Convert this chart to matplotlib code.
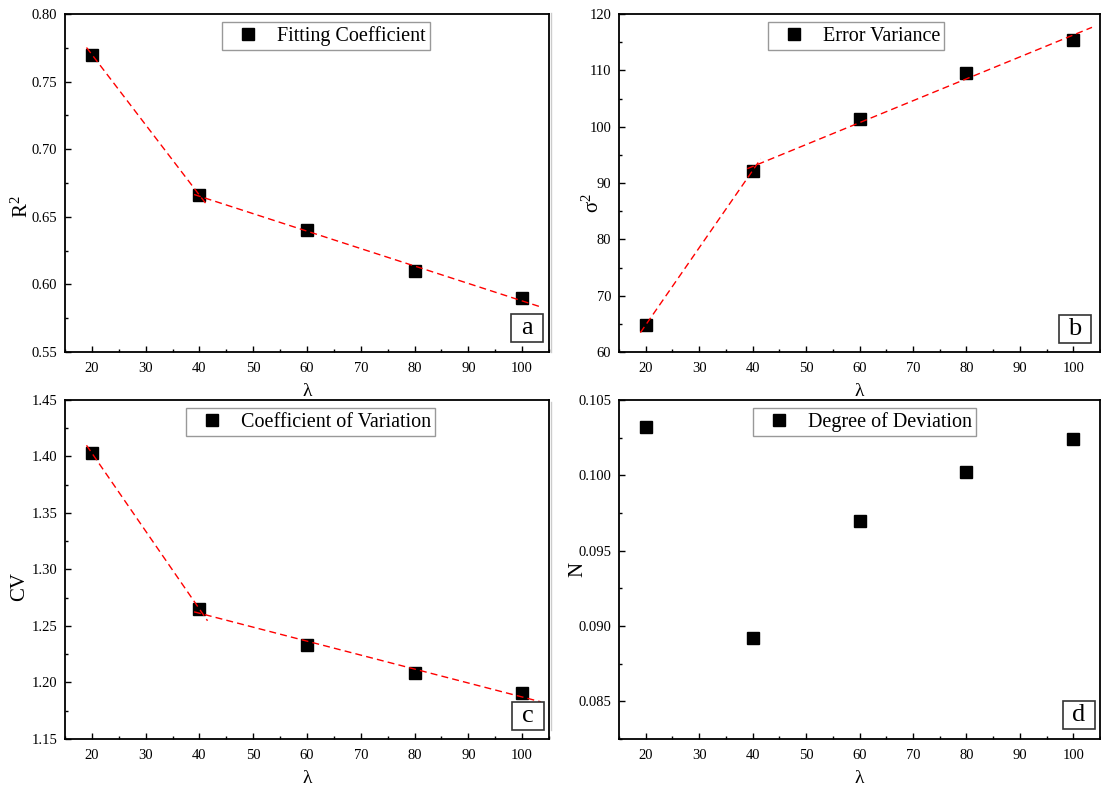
import numpy as np
import matplotlib
matplotlib.use("Agg")
import matplotlib.pyplot as plt
from matplotlib.ticker import MultipleLocator, FormatStrFormatter
from matplotlib.lines import Line2D
from matplotlib.patches import Rectangle

# 字体：Times 风格
plt.rcParams["font.family"] = ["Liberation Serif", "DejaVu Serif"]
plt.rcParams["mathtext.fontset"] = "custom"
plt.rcParams["mathtext.rm"] = "Liberation Serif"
plt.rcParams["mathtext.it"] = "Liberation Serif:italic"
plt.rcParams["axes.unicode_minus"] = False

# -------------------------- 数据 --------------------------
lam = [20, 40, 60, 80, 100]
r2 = [0.770, 0.666, 0.640, 0.610, 0.590]
sigma2 = [64.8, 92.2, 101.3, 109.5, 115.4]
cv = [1.403, 1.265, 1.233, 1.208, 1.191]
dev = [0.1032, 0.0892, 0.0970, 0.1002, 0.1024]

labels = ["Fitting Coefficient", "Error Variance", "Coefficient of Variation", "Degree of Deviation"]
ylabels = ["R$^2$", "σ$^2$", "CV", "N"]
tags = ["a", "b", "c", "d"]
ylims = [(0.55, 0.80), (60, 120), (1.15, 1.45), (0.0825, 0.105)]
ysteps = [0.05, 10, 0.05, 0.005]
yfmts = ["%.2f", "%d", "%.2f", "%.3f"]
series = [r2, sigma2, cv, dev]

# 轴的位置 (figure 比例)
pos = [
    [65 / 1101, 1 - 352 / 785, 484 / 1101, 338 / 785],
    [619 / 1101, 1 - 352 / 785, 481 / 1101, 338 / 785],
    [65 / 1101, 1 - 739 / 785, 484 / 1101, 339 / 785],
    [619 / 1101, 1 - 739 / 785, 481 / 1101, 339 / 785],
]
leg_x = [0.539, 0.493, 0.507, 0.51]
ylab_xy = [(-0.089, 0.429), (-0.054, 0.44), (-0.094, 0.451), (-0.086, 0.5)]
tag_xy = [(0.921, 0.030), (0.915, 0.027), (0.924, 0.027), (0.923, 0.030)]

fig = plt.figure(figsize=(11.01, 7.85), dpi=100)

for i in range(4):
    ax = fig.add_axes(pos[i])
    y = series[i]
    ax.plot(lam, y, "s", color="black", markersize=8.5, label=labels[i], zorder=3)

    # 两段线性拟合（前两点 / 后四点），红色虚线
    if i != 3:
        k1, b1 = np.polyfit(lam[:2], y[:2], 1)
        xs1 = np.array([19, 41.5])
        ax.plot(xs1, k1 * xs1 + b1, "--", color="red", lw=1.0, dashes=(5, 3), zorder=4)
        k2, b2 = np.polyfit(lam[1:], y[1:], 1)
        xs2 = np.array([39, 103.5])
        ax.plot(xs2, k2 * xs2 + b2, "--", color="red", lw=1.0, dashes=(5, 3), zorder=4)

    ax.set_xlim(15, 105)
    ax.set_ylim(*ylims[i])
    ax.xaxis.set_major_locator(MultipleLocator(10))
    ax.xaxis.set_minor_locator(MultipleLocator(5))
    ax.yaxis.set_major_locator(MultipleLocator(ysteps[i]))
    ax.yaxis.set_minor_locator(MultipleLocator(ysteps[i] / 2))
    ax.yaxis.set_major_formatter(FormatStrFormatter(yfmts[i]))
    ax.tick_params(which="major", direction="in", length=4.5, width=1, labelsize=10.5)
    ax.tick_params(which="minor", direction="in", length=2.5, width=1)
    ax.tick_params(axis="x", which="major", pad=7)
    ax.tick_params(axis="y", which="major", pad=5.5)
    for s in ax.spines.values():
        s.set_linewidth(1.3)

    ax.set_xlabel("λ", fontsize=14, va="top")
    ax.xaxis.set_label_coords(0.5, -0.092)
    ax.set_ylabel(ylabels[i], fontsize=15, va="center")
    ax.yaxis.set_label_coords(*ylab_xy[i])

    leg = ax.legend(loc="upper center", bbox_to_anchor=(leg_x[i], 0.975), fontsize=14.5,
                    frameon=True, fancybox=False, edgecolor="#999999", framealpha=1,
                    handletextpad=0.32, handlelength=2.2, borderpad=0.2, borderaxespad=0)
    leg.get_frame().set_linewidth(1.0)

    # 右下角的编号框
    bx, by = tag_xy[i]
    ax.add_patch(Rectangle((bx, by), 0.066, 0.082, transform=ax.transAxes,
                           fc="white", ec="#333333", lw=1.2, zorder=5))
    ax.text(bx + 0.033, by + 0.041, tags[i], transform=ax.transAxes, fontsize=19,
            ha="center", va="center", zorder=6)

# 中间的浅灰色分隔线
fig.add_artist(Line2D([0.5005, 0.5005], [0.552, 0.983], color="#cccccc", lw=1))
fig.add_artist(Line2D([0.5005, 0.5005], [0.07, 0.488], color="#cccccc", lw=1))

fig.savefig("out.png", dpi=100)
